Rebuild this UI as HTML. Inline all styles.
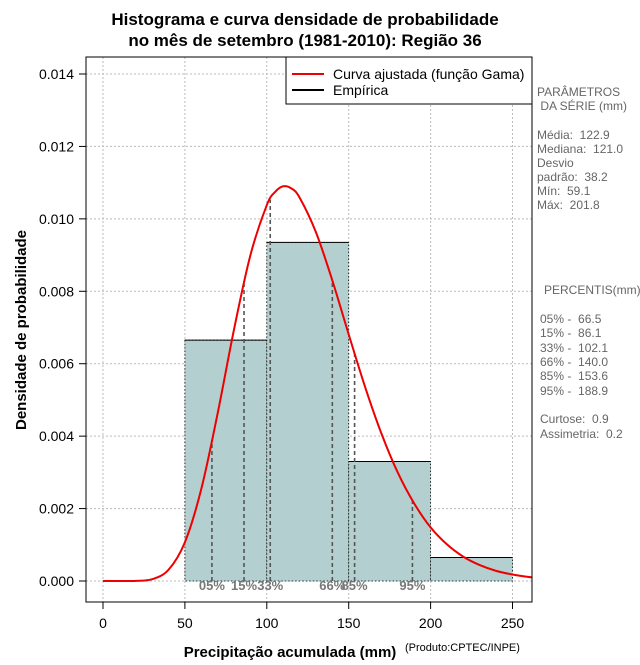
<!DOCTYPE html>
<html><head><meta charset="utf-8"><style>
body{margin:0;background:#fff;}
svg text{font-family:"Liberation Sans",sans-serif;white-space:pre;}
</style></head><body>
<svg id="c" width="640" height="660" xmlns="http://www.w3.org/2000/svg">
<defs><clipPath id="pc"><rect x="86" y="57" width="446" height="545"/></clipPath></defs>
<text x="305" y="25" text-anchor="middle" font-size="17" font-weight="bold">Histograma e curva densidade de probabilidade</text>
<text x="305" y="46" text-anchor="middle" font-size="17" font-weight="bold">no mês de setembro (1981-2010): Região 36</text>
<g id="grid"></g><g id="bars"></g><g id="pct"></g><g id="curve" clip-path="url(#pc)"></g><g id="axes"></g>
<rect x="86" y="57" width="446" height="545" fill="none" stroke="#000"/>
<g>
<rect x="286" y="57" width="246" height="47" fill="#fff" stroke="#000"/>
<line x1="292" y1="74" x2="324" y2="74" stroke="#e00" stroke-width="2"/>
<text x="333" y="79" font-size="14">Curva ajustada (função Gama)</text>
<line x1="292" y1="90" x2="324" y2="90" stroke="#000" stroke-width="2"/>
<text x="333" y="95" font-size="14">Empírica</text>
</g>
<g font-size="12" fill="#666">
<text x="537" y="96">PARÂMETROS</text><text x="537" y="110"> DA SÉRIE (mm)</text>
<text x="537" y="139">Média:  122.9</text><text x="537" y="153">Mediana:  121.0</text>
<text x="537" y="167">Desvio</text><text x="537" y="181">padrão:  38.2</text>
<text x="537" y="195">Mín:  59.1</text><text x="537" y="209">Máx:  201.8</text>
<text x="544" y="294">PERCENTIS(mm)</text>
<text x="540" y="323">05% -  66.5</text><text x="540" y="337">15% -  86.1</text>
<text x="540" y="352">33% -  102.1</text><text x="540" y="366">66% -  140.0</text>
<text x="540" y="380">85% -  153.6</text><text x="540" y="395">95% -  188.9</text>
<text x="540" y="423">Curtose:  0.9</text><text x="540" y="438">Assimetria:  0.2</text>
</g>
<text x="290" y="657" text-anchor="middle" font-size="15" font-weight="bold">Precipitação acumulada (mm)</text>
<text x="405" y="651" font-size="11">(Produto:CPTEC/INPE)</text>
<text transform="translate(26,330) rotate(-90)" text-anchor="middle" font-size="15" font-weight="bold">Densidade de probabilidade</text>
</svg>
<script>
const binEdges=[50,100,150,200,250];
const binDensity=[0.00665,0.00935,0.0033,0.00065];
const curveX=[0,10,20,30,40,50,60,70,80,90,100,105,110,115,120,130,140,150,160,170,180,190,200,210,220,230,240,250,260,265];
const curveY=[0,0,0.0000025,0.000049,0.00031,0.00107,0.00254,0.00463,0.00695,0.0090,0.01038,0.01074,0.0109,0.01084,0.01059,0.00963,0.0083,0.00681,0.00536,0.00407,0.00299,0.00214,0.00148,0.00101,0.00067,0.00044,0.00028,0.00018,0.00011,0.00009];
const pctLabels=["05%","15%","33%","66%","85%","95%"];
const pctValues=[66.5,86.1,102.1,140.0,153.6,188.9];
const xTicks=[0,50,100,150,200,250];
const yTicks=[0,0.002,0.004,0.006,0.008,0.010,0.012,0.014];
const NS="http://www.w3.org/2000/svg";
const X=v=>103+v*1.638, Y=v=>581-v*(507/0.014);
function mk(p,t,a){const e=document.createElementNS(NS,t);for(const k in a)e.setAttribute(k,a[k]);document.getElementById(p).appendChild(e);return e;}
function interp(x){for(let i=1;i<curveX.length;i++){if(x<=curveX[i]){const t=(x-curveX[i-1])/(curveX[i]-curveX[i-1]);return curveY[i-1]+t*(curveY[i]-curveY[i-1]);}}return 0;}
xTicks.forEach(t=>{
 const g=mk('grid','line',{x1:X(t),x2:X(t),y1:57,y2:602,stroke:'#bbb','stroke-dasharray':'2,2'});
 
 const k=mk('axes','line',{x1:X(t),x2:X(t),y1:602,y2:609,stroke:'#000'});
 
 const l=mk('axes','text',{x:X(t),y:628,'text-anchor':'middle','font-size':14});l.textContent=t;
 
});
yTicks.forEach(t=>{
 const g=mk('grid','line',{x1:86,x2:532,y1:Y(t),y2:Y(t),stroke:'#bbb','stroke-dasharray':'2,2'});
 
 const k=mk('axes','line',{x1:79,x2:86,y1:Y(t),y2:Y(t),stroke:'#000'});
 
 const l=mk('axes','text',{x:74,y:Y(t)+5,'text-anchor':'end','font-size':14});l.textContent=t.toFixed(3);
 
});
binDensity.forEach((d,i)=>{
 const x0=X(binEdges[i]),x1=X(binEdges[i+1]);
 const r=mk('bars','rect',{x:x0,y:Y(d),width:x1-x0,height:Y(0)-Y(d),fill:'#b4cfcf',stroke:'#000','stroke-width':0.8,'stroke-dasharray':'1.5,2'});
 
 const t=mk('bars','line',{x1:x0,x2:x1,y1:Y(d),y2:Y(d),stroke:'#000','stroke-width':1});
 
});
pctValues.forEach((v,i)=>{
 const l=mk('pct','line',{x1:X(v),x2:X(v),y1:Y(0),y2:Y(interp(v)),stroke:'#555','stroke-width':1.6,'stroke-dasharray':'4,3'});
 
 const t=mk('pct','text',{x:X(v),y:590,'text-anchor':'middle','font-size':13,'font-weight':'bold',fill:'#777'});t.textContent=pctLabels[i];
 
});
const P=curveX.map((x,i)=>[X(x),Y(curveY[i])]);
let d='M'+P[0][0]+','+P[0][1];
for(let i=0;i<P.length-1;i++){
 const p0=P[Math.max(i-1,0)],p1=P[i],p2=P[i+1],p3=P[Math.min(i+2,P.length-1)];
 const c1=[p1[0]+(p2[0]-p0[0])/6,p1[1]+(p2[1]-p0[1])/6],c2=[p2[0]-(p3[0]-p1[0])/6,p2[1]-(p3[1]-p1[1])/6];
 d+=' C'+c1[0]+','+c1[1]+' '+c2[0]+','+c2[1]+' '+p2[0]+','+p2[1];
}
const c=mk('curve','path',{d:d,fill:'none',stroke:'#e00','stroke-width':2,'stroke-linejoin':'round'});

</script>
</body></html>
